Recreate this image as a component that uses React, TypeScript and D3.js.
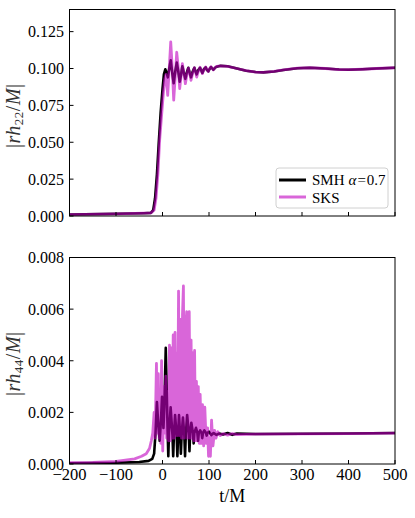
import React from "react";
import * as d3 from "d3";

// ---------- data ----------
const xTicks = [-200, -100, 0, 100, 200, 300, 400, 500];
const topYTicks = [0, 0.025, 0.05, 0.075, 0.1, 0.125];
const botYTicks = [0, 0.002, 0.004, 0.006, 0.008];

const seriesNames = ["SMH", "SKS"];

// top panel |r h22 / M|
const topSMH_t = [-200, -100, -40, -25, -20, -16, -12, -8, -4, 0, 3, 6, 9, 11.5, 14.5, 17.7, 21, 24, 27, 30.6, 34, 37, 40, 42.7, 46, 49.2, 52, 55.6, 58.5, 61.3, 65, 68.5, 71, 73.5, 77, 80.7, 83, 85.7, 89, 92.8, 95.5, 98.5, 101, 104.3, 107, 109.3, 113, 116.4, 125, 140, 160, 180, 200, 217, 240, 260, 290, 317, 350, 380, 400, 430, 460, 500];
const topSMH_v = [0.001, 0.0015, 0.0019, 0.0021, 0.004, 0.012, 0.028, 0.05, 0.07, 0.086, 0.096, 0.0995, 0.097, 0.094, 0.1, 0.1055, 0.097, 0.09, 0.097, 0.104, 0.098, 0.091, 0.096, 0.1015, 0.097, 0.093, 0.097, 0.1005, 0.097, 0.094, 0.098, 0.1005, 0.098, 0.096, 0.099, 0.1005, 0.099, 0.097, 0.0995, 0.1008, 0.099, 0.098, 0.0995, 0.101, 0.1, 0.0992, 0.1005, 0.1012, 0.1018, 0.1015, 0.1, 0.0985, 0.0976, 0.0974, 0.098, 0.099, 0.1002, 0.1005, 0.1, 0.0993, 0.0992, 0.0995, 0.1, 0.1005];

const topSKS_t = [-200, -100, -40, -25, -18, -14, -10, -6, -2, 2, 5, 7.5, 11.2, 14.5, 17.7, 21, 24.1, 27.5, 30.6, 34, 37, 40, 42.7, 46, 49.2, 52.5, 55.6, 58.5, 61.3, 65, 68.5, 71, 73.5, 77, 80.7, 83, 85.7, 89, 92.8, 95.5, 98.5, 101, 104.3, 107, 109.3, 113, 116.4, 125, 140, 160, 180, 200, 217, 240, 260, 290, 317, 350, 380, 400, 430, 460, 500];
const topSKS_v = [0.001, 0.0015, 0.0019, 0.0021, 0.004, 0.012, 0.028, 0.052, 0.068, 0.084, 0.093, 0.096, 0.0818, 0.1, 0.118, 0.1, 0.0785, 0.095, 0.111, 0.1, 0.0864, 0.095, 0.1033, 0.097, 0.0897, 0.096, 0.1003, 0.097, 0.092, 0.097, 0.1005, 0.098, 0.0942, 0.098, 0.1008, 0.099, 0.0965, 0.099, 0.101, 0.0995, 0.098, 0.0998, 0.1012, 0.1, 0.099, 0.1005, 0.1015, 0.1018, 0.1015, 0.1, 0.0985, 0.0976, 0.0974, 0.098, 0.099, 0.1002, 0.1005, 0.1, 0.0993, 0.0992, 0.0995, 0.1, 0.1005];

// bottom panel |r h44 / M|
const botSMH_t = [-200, -100, -50, -30, -22, -18, -15, -12, -9, -6, -3, -1, 2, 4, 7, 11, 12.5, 14, 17.5, 21.5, 23, 24.5, 27, 30.5, 32, 33.5, 35.5, 38, 39.5, 41, 44, 47, 48.5, 50, 53, 56.5, 58, 59.5, 62, 65.5, 67, 68.5, 72, 75, 76.5, 78, 81, 84, 85.5, 87, 90, 93.5, 95, 96.5, 100, 105, 110, 116, 122, 130, 140, 150, 160, 200, 300, 400, 500];
const botSMH_v = [0.00003, 0.00005, 0.00008, 0.00012, 0.0002, 0.0004, 0.0012, 0.0024, 0.0015, 0.0009, 0.0018, 0.0026, 0.0014, 0.0022, 0.0045, 0.0013, 0.0003, 0.0012, 0.0022, 0.0011, 0.0003, 0.0011, 0.0019, 0.0011, 0.0003, 0.0011, 0.0019, 0.0011, 0.0004, 0.0011, 0.0018, 0.0011, 0.0003, 0.0011, 0.0019, 0.0012, 0.0005, 0.0012, 0.0016, 0.0012, 0.0008, 0.0012, 0.0014, 0.0012, 0.0009, 0.0012, 0.0013, 0.0012, 0.001, 0.0012, 0.0013, 0.0012, 0.0011, 0.0012, 0.00125, 0.00112, 0.0012, 0.00113, 0.00118, 0.00114, 0.0012, 0.00113, 0.00118, 0.00116, 0.00117, 0.00118, 0.0012];

const botSKS_t = [-200, -150, -100, -80, -60, -45, -35, -28, -24, -21, -18, -16, -13, -11, -9, -7, -5, -3.5, -2, 0.5, 3, 5, 7, 9, 11, 13, 15, 17, 19, 21, 23, 25, 27, 29, 31, 32.5, 34.5, 36.5, 39, 41, 43, 45, 47, 49.5, 52, 54, 57.5, 59.5, 61.5, 63.5, 65, 67, 69, 71, 73, 75, 77, 79, 81, 83.5, 86, 88.5, 91, 94, 97, 99, 101, 103, 105.5, 108.5, 112, 115, 119, 124, 130, 140, 150, 160, 200, 300, 400, 500];
const botSKS_v = [0.00005, 0.00006, 0.0001, 0.00015, 0.0002, 0.0003, 0.0004, 0.0006, 0.0009, 0.0012, 0.002, 0.001, 0.0039, 0.0012, 0.0035, 0.001, 0.0028, 0.0008, 0.004, 0.0005, 0.003, 0.0012, 0.0034, 0.001, 0.0028, 0.0009, 0.0046, 0.0009, 0.0045, 0.001, 0.005, 0.001, 0.0051, 0.0011, 0.0043, 0.0011, 0.0067, 0.0011, 0.0056, 0.001, 0.0058, 0.0069, 0.001, 0.0052, 0.0059, 0.001, 0.0059, 0.001, 0.0048, 0.001, 0.0043, 0.0009, 0.0044, 0.0009, 0.0032, 0.0009, 0.003, 0.0008, 0.0027, 0.0008, 0.0023, 0.0007, 0.0022, 0.0008, 0.0014, 0.0003, 0.001, 0.0003, 0.0017, 0.0007, 0.0013, 0.001, 0.00125, 0.0011, 0.00118, 0.00112, 0.00118, 0.00114, 0.00116, 0.00117, 0.00118, 0.0012];

// ---------- layout ----------
const W = 415, H = 518;
const X0 = 69.5, X1 = 395;
const topY0 = 9.5, topY1 = 216;
const botY0 = 257.5, botY1 = 464;
const SERIF = "'Liberation Serif', 'Times New Roman', serif";
const MAG = "#bf00bf";

const x = d3.scaleLinear().domain([-200, 500]).range([X0, X1]);
const yTop = d3.scaleLinear().domain([0, 0.14]).range([topY1, topY0]);
const yBot = d3.scaleLinear().domain([0, 0.008]).range([botY1, botY0]);

function zip(t: number[], v: number[]): [number, number][] {
  return t.map((d, i) => [d, v[i]]);
}

function Panel({ y, y0, y1, ticks, fmt, smh, sks, sub, showX }: any) {
  const line = d3.line<[number, number]>().x((d) => x(d[0])).y((d) => y(d[1]));
  const clipId = "clip" + sub;
  const mid = (y0 + y1) / 2;
  return (
    <g>
      <defs>
        <clipPath id={clipId}>
          <rect x={X0} y={y0} width={X1 - X0} height={y1 - y0} />
        </clipPath>
      </defs>
      <g clipPath={`url(#${clipId})`}>
        <path d={line(smh) || ""} fill="none" stroke="#000" strokeWidth={2.6} strokeLinejoin="round" />
        <path d={line(sks) || ""} fill="none" stroke={MAG} strokeOpacity={0.6} strokeWidth={2.8} strokeLinejoin="round" />
      </g>
      <rect x={X0} y={y0} width={X1 - X0} height={y1 - y0} fill="none" stroke="#000" strokeWidth={1} />
      {xTicks.map((t) => (
        <line key={"xt" + t} x1={x(t)} x2={x(t)} y1={y1} y2={y1 - 4} stroke="#000" strokeWidth={1} />
      ))}
      {ticks.map((t: number) => (
        <g key={"yt" + t}>
          <line x1={X0} x2={X0 + 4} y1={y(t)} y2={y(t)} stroke="#000" strokeWidth={1} />
          <text x={64} y={y(t)} dy="0.36em" textAnchor="end" fontFamily={SERIF} fontSize={16} fill="#000">
            {fmt(t)}
          </text>
        </g>
      ))}
      {showX &&
        xTicks.map((t) => (
          <text key={"xl" + t} x={x(t)} y={480} textAnchor="middle" fontFamily={SERIF} fontSize={16.5} fill="#000">
            {t < 0 ? "\u2212" + Math.abs(t) : String(t)}
          </text>
        ))}
      <text
        transform={`translate(20,${mid + 3}) rotate(-90)`}
        textAnchor="middle"
        fontFamily={SERIF}
        fontSize={20}
        fill="#333"
        letterSpacing={0.5}
      >
        <tspan>|</tspan>
        <tspan fontStyle="italic">rh</tspan>
        <tspan fontSize={13} dy={3}>{sub}</tspan>
        <tspan dy={-3}>/</tspan>
        <tspan fontStyle="italic">M</tspan>
        <tspan>|</tspan>
      </text>
    </g>
  );
}

export default function App() {
  const topSMH = zip(topSMH_t, topSMH_v);
  const topSKS = zip(topSKS_t, topSKS_v);
  const botSMH = zip(botSMH_t, botSMH_v);
  const botSKS = zip(botSKS_t, botSKS_v);
  const fmt = d3.format(".3f");
  return (
    <svg width={W} height={H} style={{ position: "absolute", left: 0, top: 0, background: "#fff" }}>
      <rect width={W} height={H} fill="#fff" />
      <Panel y={yTop} y0={topY0} y1={topY1} ticks={topYTicks} fmt={fmt} smh={topSMH} sks={topSKS} sub="22" showX={false} />
      <Panel y={yBot} y0={botY0} y1={botY1} ticks={botYTicks} fmt={fmt} smh={botSMH} sks={botSKS} sub="44" showX={true} />
      {/* legend */}
      <g>
        <rect x={276} y={168} width={112} height={40} rx={3} fill="#fff" fillOpacity={0.8} stroke="#d0d0d0" strokeWidth={1} />
        <line x1={279} x2={306} y1={180} y2={180} stroke="#000" strokeWidth={3} />
        <line x1={279} x2={306} y1={197} y2={197} stroke={MAG} strokeOpacity={0.6} strokeWidth={3} />
        <text x={312} y={185} fontFamily={SERIF} fontSize={15} fill="#000">
          {seriesNames[0]}
          <tspan dx={4} fontStyle="italic">α</tspan>
          <tspan dx={1}>=</tspan>
          <tspan dx={1}>0.7</tspan>
        </text>
        <text x={312} y={202.5} fontFamily={SERIF} fontSize={15} fill="#000">
          {seriesNames[1]}
        </text>
      </g>
      <text x={(X0 + X1) / 2} y={502} textAnchor="middle" fontFamily={SERIF} fontSize={18} fill="#000">
        t/M
      </text>
    </svg>
  );
}
